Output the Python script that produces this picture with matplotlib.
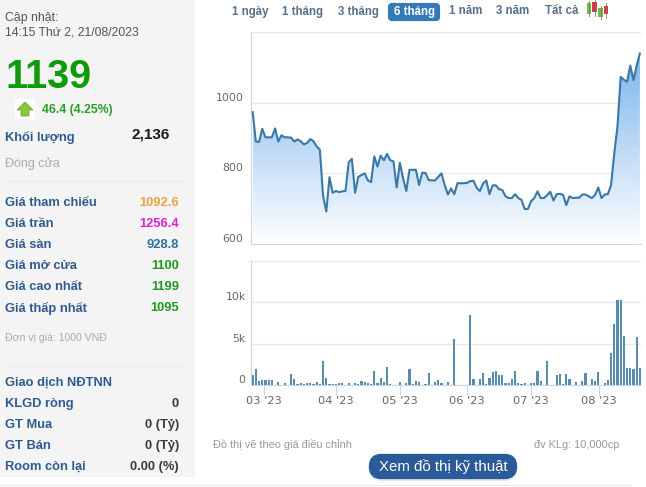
import numpy as np
from matplotlib import pyplot as plt
from matplotlib.colors import LinearSegmentedColormap
from matplotlib.patches import FancyBboxPatch, Polygon, Rectangle

plt.rcParams['font.family'] = ['Liberation Sans', 'DejaVu Sans']

W, H = 646, 487

# values, one per trading day
price = [973, 890, 889, 926, 902, 902, 902, 927, 890, 908, 902, 902, 901, 890, 896, 891,
         882, 886, 897, 891, 876, 867, 736, 692, 789, 745, 750, 747, 749, 750, 831, 841,
         745, 790, 795, 800, 780, 775, 848, 819, 850, 837, 855, 837, 834, 760, 830, 786,
         750, 810, 810, 810, 767, 802, 801, 781, 780, 780, 790, 800, 767, 740, 757, 741,
         772, 772, 772, 773, 778, 779, 759, 750, 771, 780, 741, 766, 766, 755, 753, 735,
         730, 730, 741, 730, 725, 699, 699, 721, 730, 749, 730, 730, 738, 748, 723, 741,
         742, 739, 710, 735, 730, 731, 731, 740, 740, 735, 730, 739, 760, 730, 740, 741,
         767, 857, 933, 1073, 1065, 1059, 1105, 1064, 1105, 1139]
volume = [1.2, 1.9, .5, .6, .6, .6, .6, 0, .35, 0, .3, 0, 1.3, .7, .1, .2,
          .15, .2, .2, .1, .35, .15, 2.9, .85, .1, .15, .15, .2, .2, 0, .25, 0,
          .2, .1, .5, .35, .25, .1, 1.7, .25, .85, .4, 2.15, .1, 0, 0, .35, 0,
          .25, 1.9, .1, .45, .4, 0, .1, 1.45, 0, .35, .6, .25, 0, .4, 0, 5.5,
          0, 0, 0, 0, 8.4, .7, 0, .7, 1.45, .1, .85, 1.55, 1.7, 1.2, 1.2, .25,
          .25, .7, 1.7, .25, .1, .25, 0, .25, .25, 1.7, .5, 0, 2.9, 0, 0, 1.2,
          1.3, .1, 1.3, .7, 0, .35, 0, .5, 1.45, 0, .7, .5, 1.55, 0, .25, .6,
          3.85, 7.3, 10.3, 10.2, 5.9, 2.05, 2.05, 1.9, 5.75, 2.05]
days = np.arange(len(price))

month_pos = [3.6, 26.1, 46.1, 66.9, 87, 108.1]
month_labels = ["03 '23", "04 '23", "05 '23", "06 '23", "07 '23", "08 '23"]
price_ticks = [600, 800, 1000, 1200]
price_labels = ['600', '800', '1000', '']
vol_ticks = [0, 5, 10, 15]
vol_labels = ['0', '5k', '10k', '']

tabs = ['1 ngày', '1 tháng', '3 tháng', '6 tháng', '1 năm', '3 năm', 'Tất cả']
tab_x = [250, 303, 358, 414, 466, 513, 562]

quote_rows = ['Giá tham chiếu', 'Giá trần', 'Giá sàn', 'Giá mở cửa', 'Giá cao nhất', 'Giá thấp nhất']
quote_values = ['1092.6', '1256.4', '928.8', '1100', '1199', '1095']
quote_colors = ['#f0a040', '#e020d0', '#2f6f9f', '#1a9a1a', '#1a9a1a', '#1a9a1a']
quote_y = [203, 224, 245, 266, 287, 308]
foreign_rows = ['KLGD ròng', 'GT Mua', 'GT Bán', 'Room còn lại']
foreign_values = ['0', '0 (Tỷ)', '0 (Tỷ)', '0.00 (%)']
foreign_y = [404, 425, 446, 467]

BLUE = '#2f5a8f'
GREY = '#aaaaaa'


def px_axes(fig, left, top, right, bottom):
    return fig.add_axes([left / W, 1 - bottom / H, (right - left) / W, (bottom - top) / H])


def style_axes(ax):
    ax.set_xlim(-0.68, 121.35)
    for side in ['top', 'right']:
        ax.spines[side].set_visible(False)
    ax.spines['left'].set_color('#ccd6eb')
    ax.spines['bottom'].set_color('#ccd6eb')
    ax.spines['left'].set_linewidth(0.8)
    ax.spines['bottom'].set_linewidth(0.8)
    ax.grid(axis='y', color='#e6e6e6', linewidth=0.9)
    ax.set_axisbelow(True)
    ax.tick_params(axis='y', length=0, labelsize=7.8, labelcolor='#666666')


fig = plt.figure(figsize=(W / 100, H / 100), dpi=100, facecolor='white')

# page background, all the text lives here in pixel coordinates
bg = fig.add_axes([0, 0, 1, 1])
bg.set_xlim(0, W)
bg.set_ylim(H, 0)
bg.axis('off')
bg.add_patch(Rectangle((0, 0), 195, 476.5, color='#f4f4f4', lw=0))
bg.plot([0, 630], [485, 485], color='#e8e8e8', lw=0.8)
bg.plot([5, 182], [181, 181], color='#ebebeb', lw=0.8)
bg.plot([5, 182], [366, 366], color='#ebebeb', lw=0.8)

bg.text(5, 17.5, 'Cập nhật:', fontsize=8.8, color='#555555', va='center')
bg.text(5, 32.5, '14:15 Thứ 2, 21/08/2023', fontsize=8.8, color='#555555', va='center')
bg.text(6, 77, '1139', fontsize=28.5, fontweight='bold', color='#0d9b0d', va='center')

# up arrow icon
bg.add_patch(Rectangle((15, 99), 20, 20, color='white', lw=0))
bg.add_patch(Polygon([(25, 102), (33, 110), (29, 110), (29, 116), (21, 116), (21, 110), (17, 110)],
                     closed=True, facecolor='#8cc63f', edgecolor='#5f9e20', lw=0.5))
bg.text(42, 110, '46.4 (4.25%)', fontsize=8.8, fontweight='bold', color='#2a9d2a', va='center')

bg.text(5, 137.5, 'Khối lượng', fontsize=9.3, fontweight='bold', color=BLUE, va='center')
bg.text(170, 134.5, '2,136', fontsize=11, fontweight='bold', color='#1a1a1a', va='center', ha='right')
bg.text(5, 164, 'Đóng cửa', fontsize=9, color=GREY, va='center')

for label, value, colour, y in zip(quote_rows, quote_values, quote_colors, quote_y):
    bg.text(5, y, label, fontsize=9.3, fontweight='bold', color=BLUE, va='center')
    bg.text(179, y, value, fontsize=9.3, fontweight='bold', color=colour, va='center', ha='right')

bg.text(5, 338, 'Đơn vị giá: 1000 VNĐ', fontsize=7.6, color=GREY, va='center')
bg.text(5, 383, 'Giao dịch NĐTNN', fontsize=9.3, fontweight='bold', color=BLUE, va='center')
for label, value, y in zip(foreign_rows, foreign_values, foreign_y):
    bg.text(5, y, label, fontsize=9.3, fontweight='bold', color=BLUE, va='center')
    bg.text(179, y, value, fontsize=9.3, fontweight='bold', color='#3a3a3a', va='center', ha='right')

# range selector
bg.add_patch(FancyBboxPatch((390, 5), 48, 14, boxstyle='round,pad=0,rounding_size=2',
                            facecolor='#337ab7', edgecolor='#337ab7', lw=3))
for tab, x in zip(tabs, tab_x):
    active = tab == '6 tháng'
    bg.text(x, 11.5, tab, fontsize=8.3, fontweight='bold', ha='center', va='center',
            color='white' if active else '#566f8c')

# candlestick icon
for x, y0, y1, wick0, wick1, colour in [(589, 3, 14, 1, 16, '#6fbf3f'), (594.5, 2, 12, 0, 16, '#e0353f'),
                                         (600.5, 8, 17, 6, 19, '#6fbf3f'), (606, 6, 14, 3, 18, '#e0353f')]:
    bg.plot([x, x], [wick0, wick1], color='#777777', lw=0.6)
    bg.add_patch(Rectangle((x - 2.2, y0), 4.4, y1 - y0, color=colour, lw=0))

bg.text(213, 445, 'Đồ thị vẽ theo giá điều chỉnh', fontsize=7.9, color='#999999', va='center')
bg.text(619, 445, 'đv KLg: 10,000cp', fontsize=7.9, color='#999999', va='center', ha='right')

# button
bg.add_patch(FancyBboxPatch((373, 459), 140, 18, boxstyle='round,pad=0,rounding_size=9',
                            facecolor='#e8e8e8', edgecolor='#e8e8e8', lw=6))
bg.add_patch(FancyBboxPatch((373, 458), 140, 17, boxstyle='round,pad=0,rounding_size=8',
                            facecolor='#2b5a98', edgecolor='#2b5a98', lw=6))
bg.text(443, 467, 'Xem đồ thị kỹ thuật', fontsize=10.8, color='white', ha='center', va='center')

# price panel
ax1 = px_axes(fig, 250.5, 32, 641, 244)
ax1.patch.set_alpha(0)
style_axes(ax1)
ax1.set_ylim(600, 1200)
ax1.set_yticks(price_ticks, price_labels, fontfamily='DejaVu Sans')
ax1.set_xticks([])
ax1.tick_params(axis='y', pad=5)
for lab in ax1.get_yticklabels():
    lab.set_va('bottom')

fade = LinearSegmentedColormap.from_list('fade', ['#7cb5ec', '#ffffff'])
area = ax1.fill_between(days, price, 600, color='none', lw=0)
grad = ax1.imshow(np.linspace(0, 1, 256).reshape(-1, 1), cmap=fade, aspect='auto', zorder=1.5,
                  extent=[days[0], days[-1], 600, max(price)], origin='upper')
grad.set_clip_path(area.get_paths()[0], transform=ax1.transData)
ax1.set_xlim(-0.68, 121.35)
ax1.set_ylim(600, 1200)
ax1.plot(days, price, color='#3a78a8', lw=1.5, zorder=3, solid_joinstyle='round')

# volume panel
ax2 = px_axes(fig, 250.5, 260.5, 641, 385)
ax2.patch.set_alpha(0)
style_axes(ax2)
ax2.bar(days, volume, width=0.68, color='#5a8cab', zorder=3)
ax2.set_ylim(0, 15)
ax2.set_yticks(vol_ticks, vol_labels, fontfamily='DejaVu Sans')
ax2.tick_params(axis='y', pad=3.5)
for lab in ax2.get_yticklabels():
    lab.set_va('bottom')
ax2.set_xticks(month_pos, month_labels, fontfamily='DejaVu Sans')
ax2.tick_params(axis='x', length=7.2, width=0.8, color='#ccd6eb', labelsize=8.2, labelcolor='#666666', pad=0.5)

fig.savefig('out.png', dpi=100)
